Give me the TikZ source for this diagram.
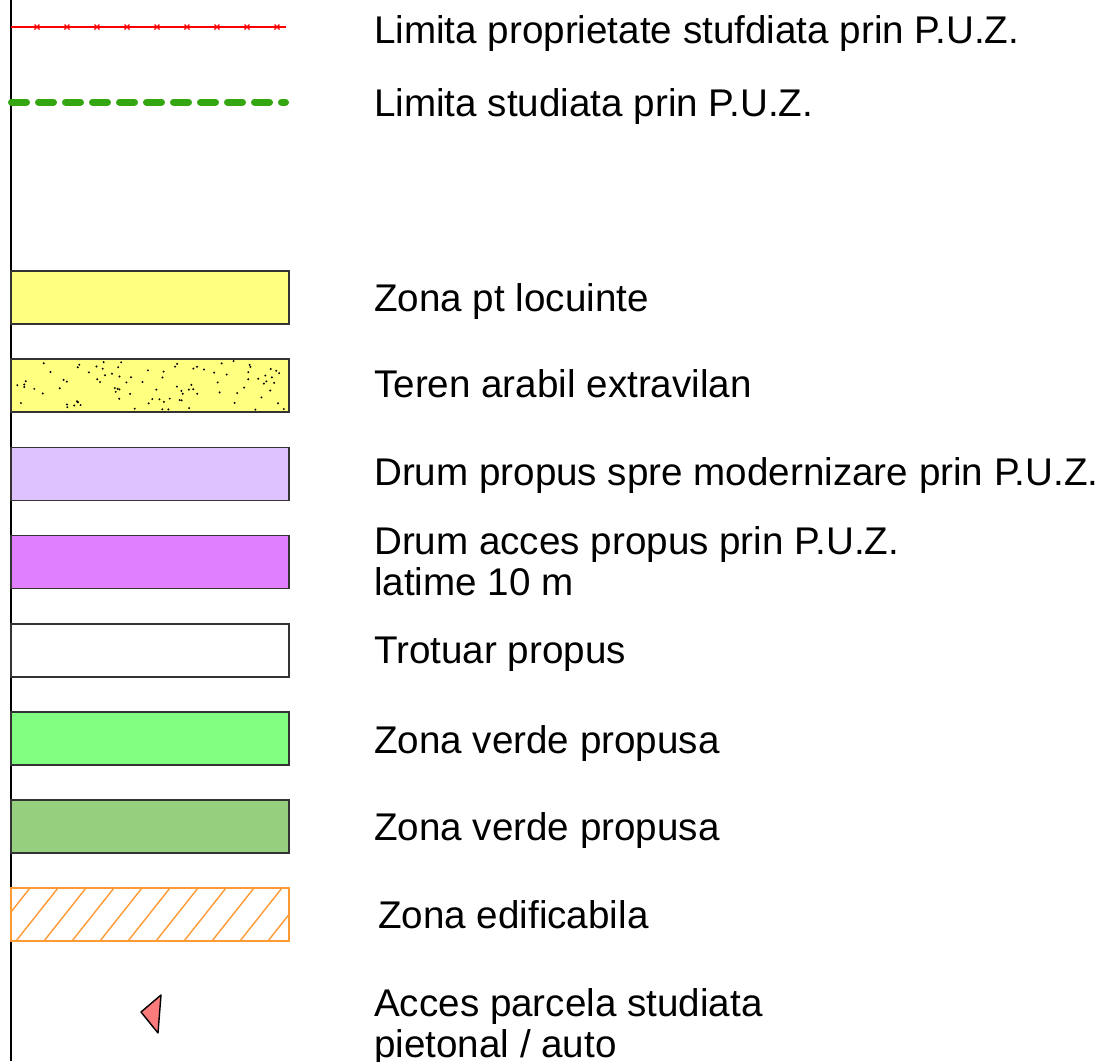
\documentclass[tikz,border=0pt]{standalone}
\usepackage{fontspec}
\setmainfont{Liberation Sans}
\definecolor{locuinte}{HTML}{FFFF80}
\definecolor{modernizare}{HTML}{DEC2FF}
\definecolor{acces}{HTML}{E080FF}
\definecolor{verdeA}{HTML}{80FF80}
\definecolor{verdeB}{HTML}{94D07E}
\definecolor{limitaverde}{HTML}{33A612}
\definecolor{edificabil}{HTML}{FF9933}
\definecolor{sageata}{HTML}{FA7B7B}

\begin{document}
\begin{tikzpicture}[x=1pt,y=-1pt,
    swatch/.style={draw=black!80,line width=1.3pt,minimum width=278pt,minimum height=53pt,inner sep=0pt},
    legtext/.style={anchor=base west,inner sep=0pt,font=\fontsize{38.6}{41}\selectfont,align=left}]
  \useasboundingbox (0,0) rectangle (1101,1061);
  \draw[line width=1.6pt] (11,0) -- (11,1061);

  % line symbols
  \coordinate (r0) at (11,27);
  \coordinate (r1) at (286,27);
  \draw[red,line width=1.5pt] (r0) -- (r1);
  \foreach \x in {37,67,...,277}
    \draw[red,line width=1.3pt] (\x-2.5,24.5) -- (\x+2.5,29.5) (\x-2.5,29.5) -- (\x+2.5,24.5);
  \coordinate (g0) at (11.5,102);
  \coordinate (g1) at (285.5,102);
  \draw[limitaverde,line width=7pt,line cap=round,dash pattern=on 15pt off 12pt] (g0) -- (g1);

  % swatches
  \draw
    (150,297.5) node[swatch,fill=locuinte] (s1){}
    (150,385.5) node[swatch,fill=locuinte] (s2){}
    (150,474) node[swatch,fill=modernizare] (s3){}
    (150,562) node[swatch,fill=acces] (s4){}
    (150,650.5) node[swatch,fill=white] (s5){}
    (150,738.5) node[swatch,fill=verdeA] (s6){}
    (150,826.5) node[swatch,fill=verdeB] (s7){}
    (150,914.5) node[swatch,draw=edificabil,line width=1.2pt] (s8){};
  \begin{scope}
    \pgfmathsetseed{4217}
    \foreach \k in {1,...,95}
      \fill ({13+274*rnd},{361+49*rnd}) circle (1.1pt);
  \end{scope}
  \begin{scope}
    \clip (s8.south west) rectangle (s8.north east);
    \foreach \x in {-40,-12,...,300}
      \draw[edificabil,line width=1.4pt] (\x,941) -- (\x+42,888);
  \end{scope}
  \draw[fill=sageata,line width=1.4pt,line join=round] (161,995) -- (141,1012) -- (158,1033) -- cycle;

  % labels
  \draw
    (374,43.5) node[legtext] (t0){Limita proprietate stufdiata prin P.U.Z.}
    (374,116.5) node[legtext] (t1){Limita studiata prin P.U.Z.}
    (374,311.5) node[legtext] (t2){Zona pt locuinte}
    (374,397.5) node[legtext] (t3){Teren arabil extravilan}
    (374,485.5) node[legtext] (t4){Drum propus spre modernizare prin P.U.Z.}
    (374,595.5) node[legtext] (t5){Drum acces propus prin P.U.Z.\\latime 10 m}
    (374,663.5) node[legtext] (t6){Trotuar propus}
    (374,753.5) node[legtext] (t7){Zona verde propusa}
    (374,840.5) node[legtext] (t8){Zona verde propusa}
    (378,928.5) node[legtext] (t9){Zona edificabila}
    (374,1057.5) node[legtext] (t10){Acces parcela studiata\\pietonal / auto};
\end{tikzpicture}
\end{document}
